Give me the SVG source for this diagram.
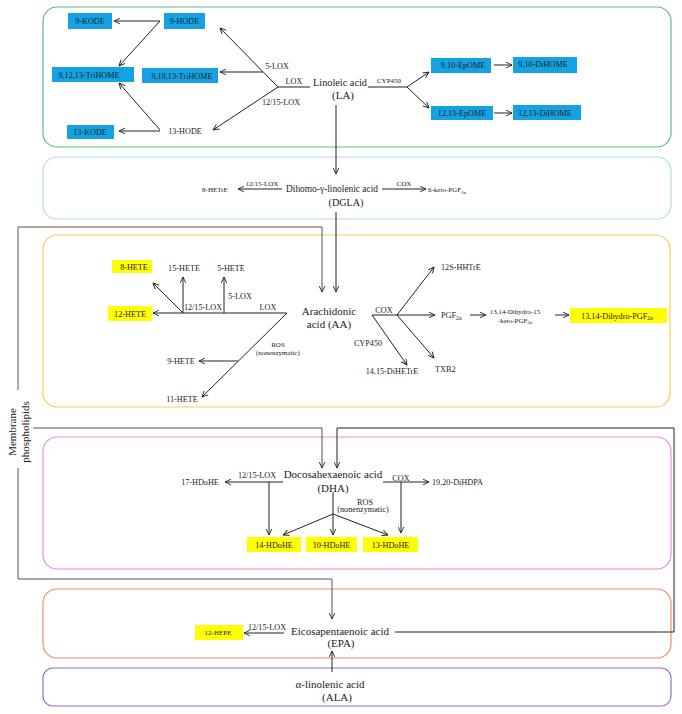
<svg xmlns="http://www.w3.org/2000/svg" width="682" height="714" viewBox="0 0 682 714">
<defs>
<marker id="a" viewBox="0 0 10 10" refX="9.5" refY="5" markerWidth="7" markerHeight="7" orient="auto" markerUnits="userSpaceOnUse">
<path d="M1,1 L9.5,5 L1,9" fill="none" stroke="#222" stroke-width="1.3"/>
</marker>
<style>
text{font-family:"Liberation Serif","Times New Roman",serif;fill:#222}
.m{font-size:11px;text-anchor:middle}
.s{font-size:8.2px;text-anchor:middle}
.sl{font-size:8.2px}
.xs{font-size:7px;text-anchor:middle}
.xsl{font-size:7px}
.bl{fill:#14a2e2}
.ye{fill:#ffff00}
.bx{fill:none;stroke-width:1.2}
.c path,.c line{fill:none;stroke:#222;stroke-width:1}
.c .ar{marker-end:url(#a)}
.c .mb{stroke:#555}
</style>
</defs>
<rect width="682" height="714" fill="#fff"/>

<g id="regions">
<rect class="bx" x="43" y="7" width="628" height="140" rx="14" stroke="#5cbf7e"/>
<rect class="bx" x="43" y="157" width="628" height="62" rx="14" stroke="#b5dce9"/>
<rect class="bx" x="43" y="235" width="627" height="172" rx="14" stroke="#f3cf5e"/>
<rect class="bx" x="43" y="437" width="628" height="132" rx="14" stroke="#e28fe2"/>
<rect class="bx" x="43" y="589" width="628" height="69" rx="14" stroke="#f08a74"/>
<rect class="bx" x="43" y="668" width="628" height="38" rx="10" stroke="#9a6ccc"/>
</g>

<g id="connectors" class="c">
<path d="M310,87 H278"/>
<path class="ar" d="M278,87 L220,28"/>
<path class="ar" d="M263,72 H220"/>
<path class="ar" d="M278,87 L213,130"/>
<path class="ar" d="M160,21 H114"/>
<path class="ar" d="M160,21 L119,66"/>
<path class="ar" d="M160,131 H119"/>
<path class="ar" d="M160,130 L119,83"/>
<path d="M368,87 H407"/>
<path class="ar" d="M407,87 L429,72"/>
<path class="ar" d="M407,87 L429,108"/>
<path class="ar" d="M494,65 H512"/>
<path class="ar" d="M494,113 H512"/>
<path class="ar" d="M336,105 V174"/>
<path class="ar" d="M282,189 H238"/>
<path class="ar" d="M382,189 H426"/>
<path class="ar" d="M336,212 V292"/>
<path class="ar" d="M287,313 H153"/>
<path class="ar" d="M224,313 V277"/>
<path class="ar" d="M183,313 V277"/>
<path class="ar" d="M183,313 L153,283"/>
<path class="ar" d="M287,313 L202,397"/>
<path class="ar" d="M238,361 H199"/>
<path d="M372,315 H397"/>
<path class="ar" d="M397,315 L434,267"/>
<path class="ar" d="M397,315 H435"/>
<path class="ar" d="M397,315 L434,358"/>
<path class="ar" d="M372,315 L407,365"/>
<path class="ar" d="M470,315 H486"/>
<path class="ar" d="M555,315 H569"/>
<path class="ar" d="M283,482 H225"/>
<path class="ar" d="M269,482 V535"/>
<path class="ar" d="M333,492 V535"/>
<path class="ar" d="M333,514 L283,535"/>
<path class="ar" d="M333,514 L388,535"/>
<path class="ar" d="M383,482 H429"/>
<path class="ar" d="M401,482 V533"/>
<path class="ar" d="M284,633 H244"/>
<path class="ar" d="M395,632 H674 V428 H337 V468"/>
<path class="ar" d="M332,672 V651"/>
<path class="ar mb" d="M18,390 V227 H322 V292"/>
<path class="ar mb" d="M33,428 H322 V468"/>
<path class="ar mb" d="M18,468 V579 H332 V619"/>
</g>

<g id="labels">
<text class="sl" x="294" y="84" text-anchor="middle">LOX</text>
<text class="s" x="277" y="69">5-LOX</text>
<text class="s" x="281" y="105">12/15-LOX</text>
<text class="xs" x="389" y="83">CYP450</text>
<text class="xs" x="262" y="185.5">12/15-LOX</text>
<text class="xs" x="404" y="185.5">COX</text>
<text class="s" x="268" y="310">LOX</text>
<text class="s" x="240" y="299">5-LOX</text>
<text class="s" x="203" y="310">12/15-LOX</text>
<text class="xs" x="278" y="347">ROS</text>
<text class="xs" x="278" y="355">(nonenzymatic)</text>
<text class="s" x="384" y="312.5">COX</text>
<text class="s" x="368" y="346">CYP450</text>
<text class="s" x="257" y="477.5">12/15-LOX</text>
<text class="s" x="365" y="504.5">ROS</text>
<text class="s" x="363" y="512">(nonenzymatic)</text>
<text class="s" x="401" y="480.5">COX</text>
<text class="s" x="267" y="630">12/15-LOX</text>
</g>

<g id="LA"><text class="m" x="340" y="86" textLength="54" lengthAdjust="spacingAndGlyphs">Linoleic acid</text><text class="m" x="343" y="99">(LA)</text></g>
<g id="n9KODE"><rect class="bl" x="68" y="13" width="44" height="16"/><text class="s" x="90" y="24">9-KODE</text></g>
<g id="n9HODE"><rect class="bl" x="164" y="13" width="41" height="16"/><text class="s" x="184.5" y="24">9-HODE</text></g>
<g id="n91213"><rect class="bl" x="52" y="67" width="82" height="15"/><text class="s" x="89" y="77.5">9,12,13-TriHOME</text></g>
<g id="n91013"><rect class="bl" x="142" y="68" width="76" height="15"/><text class="s" x="182" y="78.5">9,10,13-TriHOME</text></g>
<g id="n13KODE"><rect class="bl" x="67" y="125" width="47" height="14"/><text class="s" x="90" y="134.5">13-KODE</text></g>
<g id="n13HODE"><text class="s" x="185" y="134">13-HODE</text></g>
<g id="n910EpOME"><rect class="bl" x="431" y="58" width="60" height="15"/><text class="s" x="463" y="67.5">9,10-EpOME</text></g>
<g id="n910DiHOME"><rect class="bl" x="513" y="57" width="64" height="16"/><text class="s" x="543" y="67">9,10-DiHOME</text></g>
<g id="n1213EpOME"><rect class="bl" x="431" y="106" width="62" height="14"/><text class="s" x="462" y="116">12,13-EpOME</text></g>
<g id="n1213DiHOME"><rect class="bl" x="513" y="105" width="68" height="15"/><text class="s" x="545" y="116">12,13-DiHOME</text></g>

<g id="DGLA"><text class="m" x="332" y="192" textLength="92" lengthAdjust="spacingAndGlyphs">Dihomo-γ-linolenic acid</text><text class="m" x="346" y="206" textLength="35" lengthAdjust="spacingAndGlyphs">(DGLA)</text></g>
<g id="n8HETrE"><text class="xs" x="215" y="191.5">8-HETrE</text></g>
<g id="n6ketoPGF1a"><text class="xsl" x="428" y="192">6-keto-PGF<tspan font-size="5" dy="1.5">1α</tspan></text></g>

<g id="AA"><text class="m" x="329" y="314.5">Arachidonic</text><text class="m" x="329" y="327.5">acid (AA)</text></g>
<g id="n8HETE"><rect class="ye" x="112" y="260" width="40" height="13"/><text class="s" x="134" y="269.5">8-HETE</text></g>
<g id="n12HETE"><rect class="ye" x="108" y="306" width="44" height="15"/><text class="s" x="130" y="316.5">12-HETE</text></g>
<g id="n15HETE"><text class="s" x="184" y="271">15-HETE</text></g>
<g id="n5HETE"><text class="s" x="231" y="271">5-HETE</text></g>
<g id="n9HETE"><text class="s" x="181" y="364">9-HETE</text></g>
<g id="n11HETE"><text class="s" x="182" y="402">11-HETE</text></g>
<g id="n12SHHTrE"><text class="sl" x="441" y="270">12S-HHTrE</text></g>
<g id="nPGF2a"><text class="sl" x="441" y="318">PGF<tspan font-size="5.5" dy="1.5">2α</tspan></text></g>
<g id="nTXB2"><text class="sl" x="435" y="372">TXB2</text></g>
<g id="n1415DiHETrE"><text class="s" x="392" y="374">14,15-DiHETrE</text></g>
<g id="nketoPGF"><text class="xs" x="515" y="314">13,14-Dihydro-15</text><text class="xs" x="515" y="323">-keto-PGF<tspan font-size="4.5" dy="1.2">2α</tspan></text></g>
<g id="nDihydroPGF"><rect class="ye" x="570" y="308" width="97" height="15"/><text class="s" x="617" y="318.5">13,14-Dihydro-PGF<tspan font-size="5.5" dy="1.5">2α</tspan></text></g>

<g id="DHA"><text class="m" x="333" y="478">Docosahexaenoic acid</text><text class="m" x="333" y="492">(DHA)</text></g>
<g id="n17HDoHE"><text class="s" x="200" y="485">17-HDoHE</text></g>
<g id="n1920DiHDPA"><text class="sl" x="432" y="485">19,20-DiHDPA</text></g>
<g id="n14HDoHE"><rect class="ye" x="247" y="537" width="54" height="15"/><text class="s" x="274" y="547.5">14-HDoHE</text></g>
<g id="n10HDoHE"><rect class="ye" x="306" y="537" width="51" height="15"/><text class="s" x="331.5" y="547.5">10-HDoHE</text></g>
<g id="n13HDoHE"><rect class="ye" x="363" y="537" width="55" height="15"/><text class="s" x="390.5" y="547.5">13-HDoHE</text></g>

<g id="EPA"><text class="m" x="340" y="635">Eicosapentaenoic acid</text><text class="m" x="341" y="647">(EPA)</text></g>
<g id="n12HEPE"><rect class="ye" x="195" y="625" width="48" height="15"/><text class="xs" x="218" y="635">12-HEPE</text></g>
<g id="ALA"><text class="m" x="330" y="688">α-linolenic acid</text><text class="m" x="337" y="701">(ALA)</text></g>

<g id="membrane"><text class="m" transform="translate(16,432) rotate(-90)">Membrane</text><text class="m" transform="translate(29,432) rotate(-90)">phospholipids</text></g>
</svg>
